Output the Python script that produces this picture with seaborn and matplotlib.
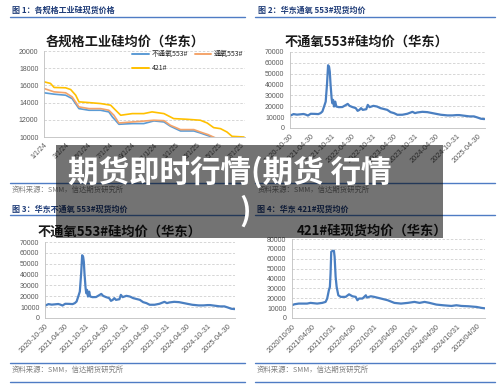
import matplotlib
matplotlib.use("Agg")
import matplotlib.pyplot as plt
import matplotlib.dates as mdates
from matplotlib.lines import Line2D
from matplotlib.patches import Rectangle
import pandas as pd
import seaborn as sns

# ---------------- data ----------------
# Panel 1: 各规格工业硅均价（华东）
p1_dates_553n = ["2024-01-01", "2024-01-29", "2024-03-01", "2024-03-19", "2024-04-07", "2024-05-05",
                 "2024-06-06", "2024-06-29", "2024-07-09", "2024-07-27", "2024-09-02", "2024-10-04",
                 "2024-11-01", "2024-11-29", "2024-12-17", "2025-01-14", "2025-02-20", "2025-03-10",
                 "2025-03-29", "2025-04-12", "2025-05-01", "2025-06-01", "2025-07-01"]
p1_vals_553n = [15140, 14980, 14860, 14470, 13300, 13110, 13110, 12920, 12330, 11480, 11560, 11560,
                11870, 11750, 11250, 10700, 10700, 10470, 10190, 10000, 9600, 8500, 8300]
p1_dates_553o = ["2024-01-01", "2024-01-29", "2024-03-01", "2024-03-19", "2024-04-07", "2024-05-05",
                 "2024-06-06", "2024-06-29", "2024-07-13", "2024-07-27", "2024-09-02", "2024-10-04",
                 "2024-11-01", "2024-11-29", "2024-12-17", "2025-01-14", "2025-02-20", "2025-03-10",
                 "2025-04-01", "2025-04-15", "2025-05-15", "2025-06-15", "2025-07-05"]
p1_vals_553o = [15640, 15250, 15140, 14670, 13500, 13300, 13300, 13110, 12530, 11630, 11750, 11850,
                11950, 11900, 11360, 10860, 10860, 10580, 10270, 10000, 9500, 8800, 8600]
p1_dates_421 = ["2024-01-01", "2024-01-19", "2024-01-29", "2024-03-01", "2024-03-15", "2024-03-29",
                "2024-04-07", "2024-05-05", "2024-06-06", "2024-07-04", "2024-07-18", "2024-08-01",
                "2024-09-02", "2024-10-04", "2024-10-27", "2024-11-29", "2024-12-26", "2025-02-01",
                "2025-03-10", "2025-03-29", "2025-04-16", "2025-05-05", "2025-05-23", "2025-06-06",
                "2025-07-09"]
p1_vals_421 = [16420, 16230, 15760, 15720, 15520, 14860, 14090, 14000, 13890, 13700, 13110, 12530,
               12720, 12720, 12920, 12720, 12140, 12060, 11950, 11630, 11090, 10970, 10580, 10080,
               10000]
p1_series = ["不通氧553#", "通氧553#", "421#"]
p1_ticks = ["2024-01-01", "2024-03-01", "2024-05-01", "2024-07-01", "2024-09-01", "2024-11-01",
            "2025-01-01", "2025-03-01", "2025-05-01", "2025-07-01"]

# Panels 2 & 3: 不通氧553#硅均价（华东）
p553_dates = ["2020-10-30", "2020-11-30", "2020-12-30", "2021-01-29", "2021-02-26", "2021-03-15",
              "2021-04-05", "2021-04-30", "2021-06-05", "2021-07-05", "2021-07-25", "2021-08-10",
              "2021-08-25", "2021-09-08", "2021-09-20", "2021-09-29", "2021-10-08", "2021-10-14",
              "2021-10-20", "2021-10-30", "2021-11-05", "2021-11-12", "2021-11-20", "2021-12-01",
              "2021-12-10", "2022-01-01", "2022-02-01", "2022-03-01", "2022-03-20", "2022-04-05",
              "2022-04-30", "2022-05-30", "2022-06-15", "2022-07-01", "2022-07-15", "2022-07-30",
              "2022-08-30", "2022-09-12", "2022-09-28", "2022-10-31", "2022-12-01", "2023-01-01",
              "2023-03-02", "2023-03-31", "2023-04-30", "2023-05-29", "2023-07-12", "2023-08-25",
              "2023-10-09", "2023-10-31", "2023-11-21", "2024-01-04", "2024-02-17", "2024-04-01",
              "2024-04-30", "2024-06-14", "2024-08-11", "2024-09-24", "2024-10-31", "2024-11-22",
              "2025-01-05", "2025-02-19", "2025-03-31", "2025-04-30", "2025-06-01", "2025-07-01"]
p553_vals = [11300, 12800, 12300, 12600, 12900, 12400, 11500, 13100, 13000, 12800, 13700, 15200,
             19800, 24300, 41000, 57800, 56300, 51700, 41000, 27400, 22800, 25900, 19800, 24300,
             19800, 19200, 19300, 21000, 22200, 20400, 19300, 18300, 15800, 16700, 18300, 16700,
             17300, 21300, 19200, 20400, 19800, 18300, 16700, 14600, 13700, 12200, 12200, 13100,
             14900, 13700, 14300, 14900, 14600, 13700, 13100, 12200, 11600, 11600, 11900, 11900,
             11300, 10700, 10700, 9700, 8500, 8200]

# Panel 4: 421#硅现货均价（华东）
p421_dates = ["2020-10-30", "2020-11-20", "2020-12-29", "2021-03-13", "2021-04-12", "2021-06-10",
              "2021-07-25", "2021-08-24", "2021-09-07", "2021-09-22", "2021-10-01", "2021-10-07",
              "2021-10-13", "2021-10-25", "2021-11-06", "2021-11-12", "2021-11-21", "2021-11-30",
              "2021-12-15", "2022-01-05", "2022-02-18", "2022-03-20", "2022-04-19", "2022-05-18",
              "2022-06-02", "2022-06-17", "2022-07-17", "2022-08-16", "2022-08-25", "2022-09-29",
              "2022-10-29", "2022-12-28", "2023-02-25", "2023-04-26", "2023-06-24", "2023-08-23",
              "2023-10-21", "2023-12-05", "2024-01-19", "2024-03-03", "2024-05-02", "2024-06-30",
              "2024-09-13", "2024-10-27", "2024-12-11", "2025-02-09", "2025-04-24", "2025-06-08",
              "2025-07-07"]
p421_vals = [12900, 13900, 14600, 14600, 15300, 14600, 15300, 16300, 19700, 28100, 31500, 45000,
             67000, 68000, 68000, 62000, 41700, 31500, 23000, 21400, 21400, 24000, 22000, 21400,
             18000, 19700, 19700, 23000, 20700, 22000, 21400, 19700, 18000, 15300, 14600, 15300,
             16300, 15300, 16300, 15300, 13600, 12900, 12200, 12900, 12200, 11900, 11200, 10200,
             9800]

half_year_ticks = ["2020-10-30", "2021-04-30", "2021-10-31", "2022-04-30", "2022-10-31",
                   "2023-04-30", "2023-10-31", "2024-04-30", "2024-10-31", "2025-04-30"]

titles = ["各规格工业硅均价（华东）", "不通氧553#硅均价（华东）", "不通氧553#硅均价（华东）", "421#硅现货均价（华东）"]
headers = ["图 1：各规格工业硅现货价格", "图 2：华东通氧 553#现货均价", "图 3：华东不通氧 553#现货均价", "图 4：华东 421#现货均价"]
source = "资料来源：SMM，信达期货研究所"
overlay_line1 = "期货即时行情(期货 行情"
overlay_line2 = ")"

# ---------------- style ----------------
sns.set_theme(style="white")
plt.rcParams['font.family'] = ['Noto Sans CJK SC', 'DejaVu Sans']
plt.rcParams['axes.unicode_minus'] = False

W, H = 500, 385
fig = plt.figure(figsize=(5, 3.85), dpi=100)
fig.patch.set_facecolor("white")


def fx(x):
    return x / W


def fy(y):
    return 1 - y / H


def add_axes_px(l, t, r, b):
    return fig.add_axes([fx(l), fy(b), (r - l) / W, (b - t) / H])


TICKFONT = ['Liberation Sans', 'DejaVu Sans']


def style_axes(ax, yticks, ylim, xticks, xlim, fmt, xsize):
    ax.set_facecolor("white")
    ax.set_ylim(*ylim)
    ax.set_yticks(yticks)
    ax.set_xlim(pd.Timestamp(xlim[0]), pd.Timestamp(xlim[1]))
    ax.set_xticks([pd.Timestamp(t) for t in xticks])
    ax.set_xticklabels([fmt(pd.Timestamp(t)) for t in xticks], rotation=45, ha='right',
                       rotation_mode='anchor', family=TICKFONT, fontsize=xsize, color='#595959')
    ax.set_yticklabels([str(v) for v in yticks], family=TICKFONT, fontsize=5, color='#595959')
    ax.yaxis.grid(True, linestyle=(0, (3, 2)), color='#d0d0d0', linewidth=0.6)
    ax.xaxis.grid(False)
    for s in ['top', 'right']:
        ax.spines[s].set_visible(False)
    for s in ['left', 'bottom']:
        ax.spines[s].set_color('#bfbfbf')
        ax.spines[s].set_linewidth(0.6)
    ax.tick_params(axis='both', length=2, width=0.5, colors='#bfbfbf', pad=2)
    ax.tick_params(axis='x', pad=1.5)
    for lab in ax.get_xticklabels() + ax.get_yticklabels():
        lab.set_color('#595959')
    ax.set_xlabel("")
    ax.set_ylabel("")


mdy = lambda t: f"{t.month}/{t.day}/{t.strftime('%y')}"
dash = lambda t: t.strftime("%Y-%m-%d")
slash = lambda t: t.strftime("%Y/%m/%d")

LINE_BLUE = '#4a7fc1'

# ---- Panel 1 ----
ax1 = add_axes_px(44, 51, 245, 137)
df1 = pd.concat([
    pd.DataFrame({"date": pd.to_datetime(p1_dates_553n), "price": p1_vals_553n, "spec": p1_series[0]}),
    pd.DataFrame({"date": pd.to_datetime(p1_dates_553o), "price": p1_vals_553o, "spec": p1_series[1]}),
    pd.DataFrame({"date": pd.to_datetime(p1_dates_421), "price": p1_vals_421, "spec": p1_series[2]}),
])
pal1 = {p1_series[0]: '#5b9bd5', p1_series[1]: '#f4a46a', p1_series[2]: '#ffc000'}
sns.lineplot(data=df1, x="date", y="price", hue="spec", palette=pal1, linewidth=1.2, ax=ax1,
             legend=False)
style_axes(ax1, list(range(10000, 20001, 2000)), (10000, 20000), p1_ticks,
           ("2024-01-01", "2025-07-12"), mdy, 5)
handles = [Line2D([], [], color=pal1[s], lw=1.4) for s in p1_series]
order = [0, 2, 1]
ax1.legend([handles[i] for i in order], [p1_series[i] for i in order], ncol=2, frameon=False,
           loc='upper left', bbox_to_anchor=(fx(132), fy(50)), bbox_transform=fig.transFigure,
           fontsize=5, handlelength=2.4, columnspacing=1.0, handletextpad=0.4, labelspacing=0.9,
           borderaxespad=0, borderpad=0)

# ---- Panel 2 ----
ax2 = add_axes_px(290, 52, 485, 128)
df553 = pd.DataFrame({"date": pd.to_datetime(p553_dates), "price": p553_vals})
sns.lineplot(data=df553, x="date", y="price", color=LINE_BLUE, linewidth=1.6, ax=ax2)
style_axes(ax2, list(range(0, 70001, 10000)), (0, 70000), half_year_ticks,
           ("2020-10-30", "2025-07-06"), dash, 5.3)

# ---- Panel 3 ----
ax3 = add_axes_px(45, 242, 235, 318)
sns.lineplot(data=df553, x="date", y="price", color=LINE_BLUE, linewidth=1.6, ax=ax3)
style_axes(ax3, list(range(0, 70001, 10000)), (0, 70000), half_year_ticks,
           ("2020-10-30", "2025-07-04"), dash, 5.3)

# ---- Panel 4 ----
ax4 = add_axes_px(292, 239, 485, 318)
df421 = pd.DataFrame({"date": pd.to_datetime(p421_dates), "price": p421_vals})
sns.lineplot(data=df421, x="date", y="price", color=LINE_BLUE, linewidth=1.6, ax=ax4)
style_axes(ax4, list(range(0, 80001, 10000)), (0, 80000), half_year_ticks,
           ("2020-10-30", "2025-07-08"), slash, 5.3)

# ---- titles inside panels ----
title_pos = [(125, 42), (366, 42), (119, 232), (372, 231)]
for (x, y), t in zip(title_pos, titles):
    fig.text(fx(x), fy(y), t, ha='center', va='center', fontsize=9.5, fontweight='bold',
             color='#1a1a1a')

# ---- headers, separators, sources ----
header_pos = [(12, 10), (258, 10), (12, 209), (257, 209)]
for (x, y), t in zip(header_pos, headers):
    fig.text(fx(x), fy(y), t, ha='left', va='center', fontsize=5.8, fontweight='bold',
             color='#1f3c78')

SEP = '#4f7cc4'
for y in [16.5, 183, 214.5, 363, 382]:
    for (x0, x1) in [(10, 245), (255, 495)]:
        fig.add_artist(Line2D([fx(x0), fx(x1)], [fy(y), fy(y)], color=SEP, lw=1.0,
                              transform=fig.transFigure))

for (x, y) in [(12, 189.5), (258, 189.5), (12, 370), (257, 370)]:
    fig.text(fx(x), fy(y), source, ha='left', va='center', fontsize=5.3, color='#7f7f7f',
             style='italic')

# ---- overlay banner ----
fig.add_artist(Rectangle((fx(56), fy(238)), (443 - 56) / W, (238 - 145) / H,
                         transform=fig.transFigure, facecolor='black', alpha=0.55,
                         edgecolor='none', zorder=10))
fig.text(fx(68), fy(172), overlay_line1, ha='left', va='center', fontsize=22, fontweight='bold',
         color='white', zorder=11)
fig.text(fx(245), fy(211), overlay_line2, ha='center', va='center', fontsize=22,
         fontweight='bold', color='white', zorder=11)

fig.savefig("out.png", dpi=100, facecolor="white")
